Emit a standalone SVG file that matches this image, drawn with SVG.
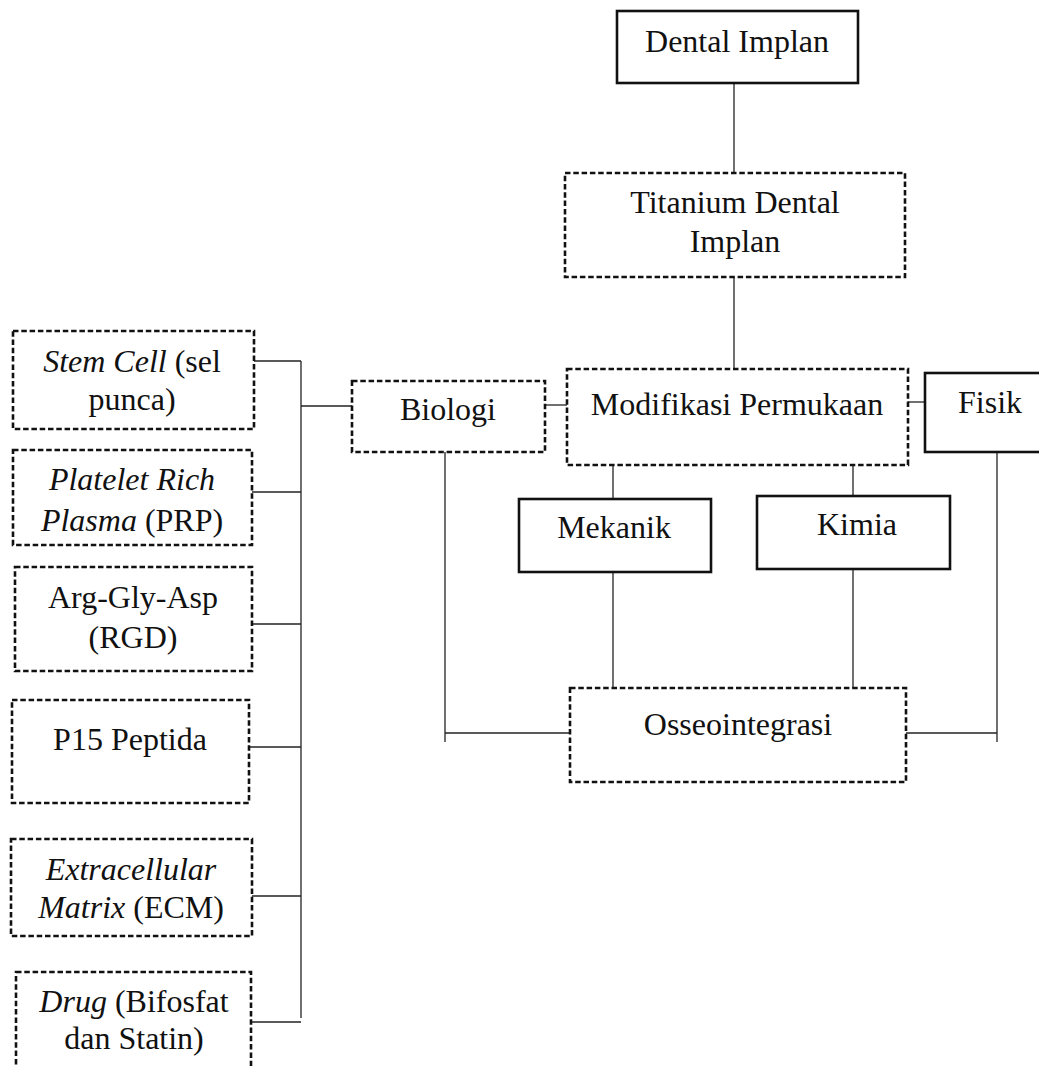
<svg xmlns="http://www.w3.org/2000/svg" width="1039" height="1066" viewBox="0 0 1039 1066">
<style>
text{font-family:"Liberation Serif","Times New Roman",serif;font-size:32px;fill:#111;text-anchor:middle}
.i{font-style:italic}
.solid{fill:#fff;stroke:#111;stroke-width:2.6}
.dash{fill:#fff;stroke:#111;stroke-width:2.6;stroke-dasharray:5.5 2.8}
.c line{stroke:#222;stroke-width:1.3}
</style>
<rect width="1039" height="1066" fill="#fff"/>
<g class="c" id="connectors">
<line x1="734" y1="83" x2="734" y2="173"/>
<line x1="734" y1="277" x2="734" y2="369"/>
<line x1="545" y1="405" x2="567" y2="405"/>
<line x1="908" y1="402" x2="925" y2="402"/>
<line x1="613" y1="465" x2="613" y2="499"/>
<line x1="853" y1="465" x2="853" y2="496"/>
<line x1="613" y1="566" x2="613" y2="688"/>
<line x1="853" y1="569" x2="853" y2="688"/>
<line x1="445" y1="452" x2="445" y2="742"/>
<line x1="445" y1="733" x2="570" y2="733"/>
<line x1="997" y1="452" x2="997" y2="742"/>
<line x1="906" y1="733" x2="997" y2="733"/>
<line x1="301" y1="406" x2="352" y2="406"/>
<line x1="301" y1="361" x2="301" y2="1018"/>
<line x1="254" y1="361" x2="301" y2="361"/>
<line x1="252" y1="492" x2="301" y2="492"/>
<line x1="252" y1="624" x2="301" y2="624"/>
<line x1="249" y1="747" x2="301" y2="747"/>
<line x1="252" y1="896" x2="301" y2="896"/>
<line x1="251" y1="1022" x2="301" y2="1022"/>
</g>
<g id="dental-implan"><rect class="solid" x="617" y="11" width="241" height="72"/><text x="737" y="52">Dental Implan</text></g>
<g id="titanium"><rect class="dash" x="565" y="173" width="340" height="104"/><text x="735" y="213">Titanium Dental</text><text x="735" y="252">Implan</text></g>
<g id="modifikasi"><rect class="dash" x="567" y="369" width="341" height="96"/><text x="737" y="415">Modifikasi Permukaan</text></g>
<g id="fisik"><rect class="solid" x="925" y="373" width="130" height="79"/><text x="990" y="413">Fisik</text></g>
<g id="biologi"><rect class="dash" x="352" y="381" width="193" height="71"/><text x="448" y="420">Biologi</text></g>
<g id="mekanik"><rect class="solid" x="519" y="499" width="192" height="73"/><text x="614" y="538">Mekanik</text></g>
<g id="kimia"><rect class="solid" x="757" y="496" width="193" height="73"/><text x="857" y="535">Kimia</text></g>
<g id="osseointegrasi"><rect class="dash" x="570" y="688" width="336" height="94"/><text x="738" y="735">Osseointegrasi</text></g>
<g id="stem-cell"><rect class="dash" x="13" y="331" width="241" height="98"/><text x="132" y="372"><tspan class="i">Stem Cell</tspan> (sel</text><text x="132" y="410">punca)</text></g>
<g id="prp"><rect class="dash" x="13" y="450" width="239" height="95"/><text x="132" y="490" class="i">Platelet Rich</text><text x="132" y="531"><tspan class="i">Plasma</tspan> (PRP)</text></g>
<g id="rgd"><rect class="dash" x="15" y="567" width="237" height="104"/><text x="133" y="608">Arg-Gly-Asp</text><text x="133" y="648">(RGD)</text></g>
<g id="p15"><rect class="dash" x="12" y="700" width="237" height="103"/><text x="130" y="750">P15 Peptida</text></g>
<g id="ecm"><rect class="dash" x="11" y="839" width="241" height="97"/><text x="131" y="880" class="i">Extracellular</text><text x="131" y="918"><tspan class="i">Matrix</tspan> (ECM)</text></g>
<g id="drug"><rect class="dash" x="16" y="972" width="235" height="110"/><text x="134" y="1012"><tspan class="i">Drug</tspan> (Bifosfat</text><text x="134" y="1049">dan Statin)</text></g>
</svg>
